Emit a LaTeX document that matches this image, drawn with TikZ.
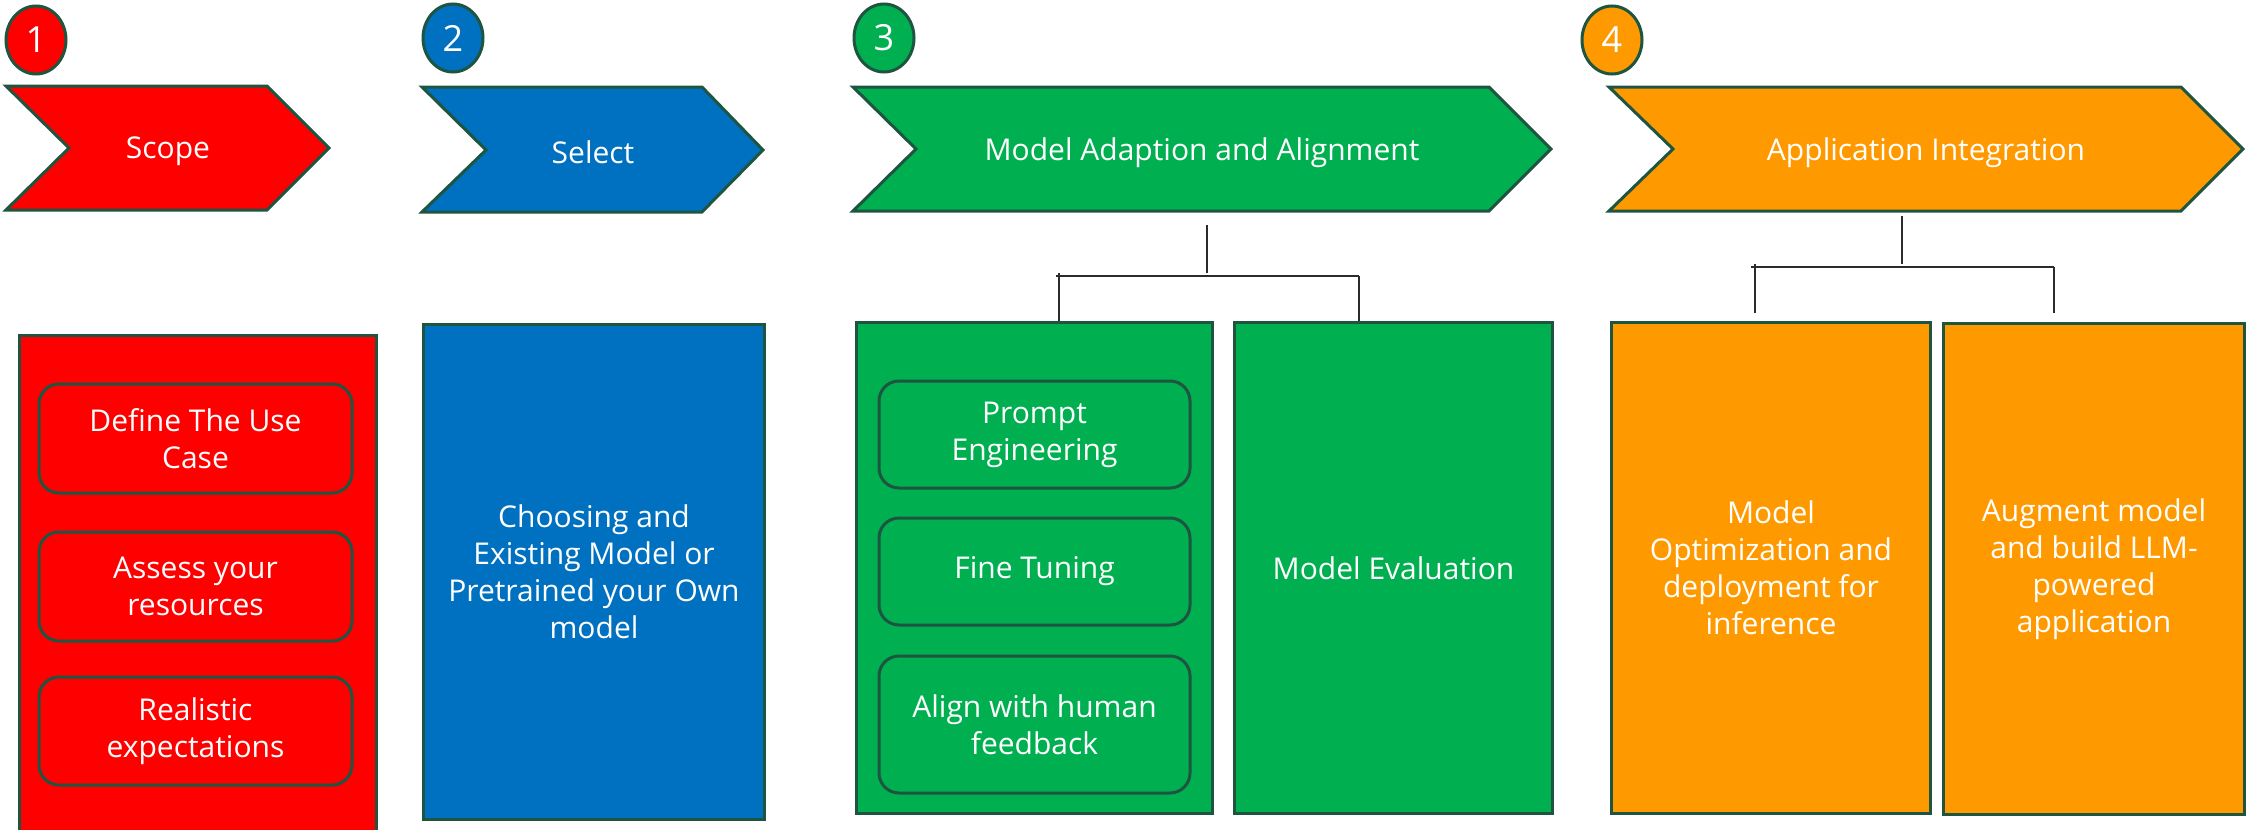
\documentclass[tikz,border=0pt]{standalone}
\usepackage{fontspec}
\setmainfont{Open Sans}
\usetikzlibrary{shapes.geometric}
\definecolor{cred}{HTML}{FF0000}
\definecolor{cblue}{HTML}{0070C0}
\definecolor{cgreen}{HTML}{00B050}
\definecolor{corange}{HTML}{FF9900}
\definecolor{edge}{HTML}{1E5541}
\definecolor{wire}{HTML}{2B2B2B}
\tikzset{
  outl/.style={draw=edge, line width=3pt, line join=miter},
  lbl/.style={text=white, font=\fontsize{30}{37}\selectfont, align=center, inner sep=0pt},
  numbadge/.style={ellipse, outl, minimum width=60pt, minimum height=68pt, inner sep=0pt,
     text=white, font=\fontsize{36}{40}\selectfont},
  bigbox/.style={rectangle, outl, anchor=north west, inner sep=0pt, lbl},
  subbox/.style={rectangle, rounded corners=20pt, outl, inner sep=0pt, lbl},
  wireline/.style={draw=wire, line width=1.6pt}
}
\begin{document}
\begin{tikzpicture}[x=1pt,y=-1pt]
\useasboundingbox (0,0) rectangle (2252,830);
\clip (0,0) rectangle (2252,830);
\fill[white] (0,0) rectangle (2252,830);

% number badges
\node[numbadge, fill=cred]    (n1) at (36,40)   {1};
\node[numbadge, fill=cblue]   (n2) at (453,38)  {2};
\node[numbadge, fill=cgreen]  (n3) at (884,38)  {3};
\node[numbadge, fill=corange] (n4) at (1612,40) {4};

% chevrons
\path[outl, fill=cred]    (6,86) -- (267,86) -- (329,148) -- (267,210) -- (6,210) -- (69,148) -- cycle;
\path[outl, fill=cblue]   (422,87) -- (702,87) -- (763,150) -- (702,212) -- (422,212) -- (486,150) -- cycle;
\path[outl, fill=cgreen]  (853,87) -- (1489,87) -- (1551,149) -- (1489,211) -- (853,211) -- (916,149) -- cycle;
\path[outl, fill=corange] (1609,87) -- (2181,87) -- (2243,149) -- (2181,211) -- (1609,211) -- (1673,149) -- cycle;

\node[lbl] (c1) at (168,151)  {Scope};
\node[lbl] (c2) at (593,152)  {Select};
\node[lbl] (c3) at (1202,153) {Model Adaption and Alignment};
\node[lbl] (c4) at (1926,153) {Application Integration};

% column 1
\node[bigbox, fill=cred, minimum width=357pt, minimum height=520pt] (redbox) at (18,334) {};
\node[subbox, fill=cred, minimum width=313pt, minimum height=109pt] (r1) at (195.5,438.5) {Define The Use\\Case};
\node[subbox, fill=cred, minimum width=313pt, minimum height=109pt] (r2) at (195.5,586.5) {Assess your\\resources};
\node[subbox, fill=cred, minimum width=313pt, minimum height=108pt] (r3) at (195.5,731) {Realistic\\expectations};

% column 2
\node[bigbox, fill=cblue, minimum width=341pt, minimum height=495pt] (bluebox) at (422,323)
  {Choosing and\\Existing Model or\\Pretrained your Own\\model};

% column 3
\node[bigbox, fill=cgreen, minimum width=356pt, minimum height=491pt] (g1) at (855,321) {};
\node[bigbox, fill=cgreen, minimum width=318pt, minimum height=491pt] (g2) at (1233,321) {Model Evaluation};
\node[subbox, fill=cgreen, minimum width=311pt, minimum height=107pt] (s1) at (1034.5,434.5) {Prompt\\Engineering};
\node[subbox, fill=cgreen, minimum width=311pt, minimum height=107pt] (s2) at (1034.5,571.5) {Fine Tuning};
\node[subbox, fill=cgreen, minimum width=311pt, minimum height=137pt] (s3) at (1034.5,724.5) {Align with human\\feedback};

% column 4
\node[bigbox, fill=corange, minimum width=319pt, minimum height=491pt] (o1) at (1610,321)
  {Model\\Optimization and\\deployment for\\inference};
\node[bigbox, fill=corange, minimum width=301pt, minimum height=491pt] (o2) at (1942,322)
  {Augment model\\and build LLM-\\powered\\application};

% connectors column 3
\coordinate (gt) at (1207,225);
\coordinate (gj) at (1207,273);
\coordinate (gl) at (1056,276);
\coordinate (gr) at (1359,276);
\coordinate (gld) at (1059,273);
\draw[wireline] (gt) -- (gj);
\draw[wireline] (gl) -- (gr);
\draw[wireline] (gld) -- (gld |- g1.north);
\draw[wireline] (gr) -- (gr |- g2.north);

% connectors column 4
\coordinate (ot) at (1902,216);
\coordinate (oj) at (1902,264);
\coordinate (ol) at (1751,267);
\coordinate (or) at (2054,267);
\coordinate (olt) at (1755,264);
\coordinate (old) at (1755,313);
\coordinate (ord) at (2054,313);
\draw[wireline] (ot) -- (oj);
\draw[wireline] (ol) -- (or);
\draw[wireline] (olt) -- (old);
\draw[wireline] (or) -- (ord);
\end{tikzpicture}
\end{document}
